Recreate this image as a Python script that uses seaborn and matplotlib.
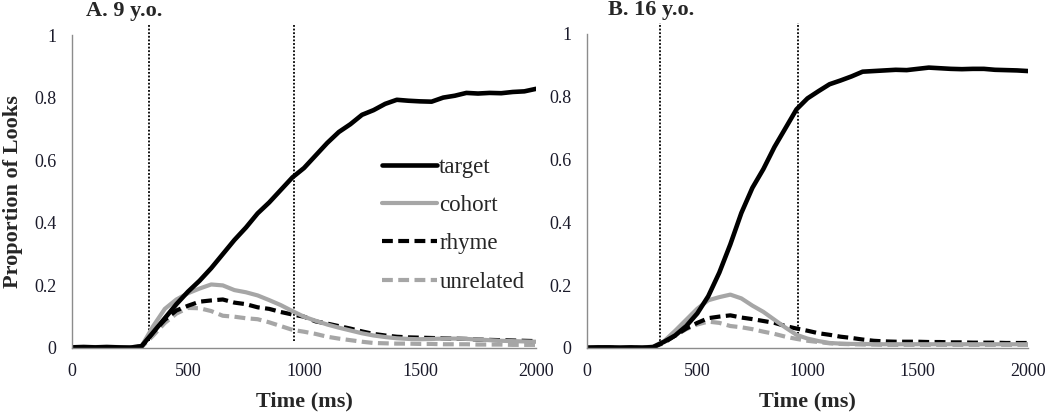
import numpy as np
import pandas as pd
import seaborn as sns
import matplotlib.pyplot as plt

# time axis (ms), one value every 50 ms
time_ms = list(range(0, 2001, 50))

# panel A: 9 year olds
target_9 = [0.002, 0.003, 0.002, 0.003, 0.002, 0.001, 0.006, 0.05, 0.095, 0.14,
            0.18, 0.215, 0.255, 0.3, 0.345, 0.385, 0.43, 0.465, 0.505, 0.545,
            0.575, 0.615, 0.655, 0.69, 0.715, 0.745, 0.76, 0.78, 0.793, 0.79,
            0.788, 0.787, 0.8, 0.806, 0.815, 0.813, 0.815, 0.814, 0.818, 0.82,
            0.828]
cohort_9 = [0.003, 0.004, 0.003, 0.004, 0.003, 0.002, 0.006, 0.07, 0.125, 0.155,
            0.175, 0.19, 0.203, 0.2, 0.185, 0.178, 0.168, 0.153, 0.137, 0.118,
            0.1, 0.087, 0.075, 0.065, 0.056, 0.047, 0.04, 0.035, 0.031, 0.029,
            0.028, 0.029, 0.03, 0.03, 0.029, 0.027, 0.025, 0.023, 0.022, 0.021,
            0.02]
rhyme_9 = [0.002, 0.003, 0.002, 0.002, 0.003, 0.002, 0.005, 0.05, 0.09, 0.12,
           0.135, 0.148, 0.152, 0.155, 0.145, 0.14, 0.13, 0.125, 0.115, 0.107,
           0.1, 0.085, 0.078, 0.07, 0.062, 0.053, 0.045, 0.04, 0.036, 0.034,
           0.033, 0.032, 0.031, 0.03, 0.029, 0.027, 0.026, 0.025, 0.024, 0.023,
           0.022]
unrelated_9 = [0.001, 0.002, 0.001, 0.002, 0.001, 0.001, 0.003, 0.04, 0.08, 0.11,
               0.128, 0.127, 0.118, 0.103, 0.1, 0.095, 0.092, 0.082, 0.07, 0.058,
               0.052, 0.045, 0.036, 0.03, 0.025, 0.02, 0.016, 0.015, 0.014, 0.014,
               0.013, 0.013, 0.012, 0.012, 0.012, 0.011, 0.011, 0.011, 0.01, 0.01,
               0.01]

# panel B: 16 year olds
target_16 = [0.001, 0.002, 0.002, 0.001, 0.002, 0.001, 0.003, 0.02, 0.04, 0.07,
             0.11, 0.165, 0.24, 0.33, 0.43, 0.51, 0.57, 0.64, 0.7, 0.76,
             0.795, 0.818, 0.84, 0.852, 0.865, 0.88, 0.882, 0.884, 0.886, 0.885,
             0.889, 0.893, 0.891, 0.889, 0.888, 0.889, 0.889, 0.886, 0.885, 0.884,
             0.882]
cohort_16 = [0.002, 0.003, 0.002, 0.003, 0.002, 0.002, 0.004, 0.022, 0.055, 0.09,
             0.125, 0.152, 0.162, 0.17, 0.158, 0.135, 0.115, 0.09, 0.065, 0.042,
             0.03, 0.022, 0.016, 0.014, 0.013, 0.013, 0.012, 0.012, 0.012, 0.012,
             0.012, 0.012, 0.012, 0.012, 0.012, 0.012, 0.012, 0.012, 0.012, 0.012,
             0.012]
rhyme_16 = [0.001, 0.002, 0.001, 0.002, 0.001, 0.001, 0.003, 0.018, 0.04, 0.062,
            0.08, 0.095, 0.1, 0.104, 0.097, 0.092, 0.086, 0.08, 0.07, 0.062,
            0.055, 0.047, 0.042, 0.036, 0.032, 0.027, 0.023, 0.021, 0.02, 0.02,
            0.02, 0.019, 0.019, 0.018, 0.018, 0.017, 0.017, 0.017, 0.016, 0.016,
            0.016]
unrelated_16 = [0.001, 0.001, 0.002, 0.001, 0.001, 0.001, 0.002, 0.016, 0.04, 0.06,
                0.075, 0.084, 0.08, 0.07, 0.066, 0.06, 0.052, 0.045, 0.036, 0.029,
                0.023, 0.019, 0.015, 0.013, 0.012, 0.011, 0.011, 0.01, 0.01, 0.01,
                0.01, 0.01, 0.01, 0.01, 0.01, 0.01, 0.01, 0.01, 0.01, 0.01,
                0.01]

panel_titles = ["A. 9 y.o.", "B. 16 y.o."]
marker_times = [333, 955]
x_ticks = [0, 500, 1000, 1500, 2000]
y_ticks = [0, 0.2, 0.4, 0.6, 0.8, 1]
y_tick_labels = ["0", "0.2", "0.4", "0.6", "0.8", "1"]

sns.set_style("white")
plt.rcParams['font.family'] = ['Liberation Serif', 'DejaVu Serif']

gray = "#a6a6a6"
axis_gray = "#8c8c8c"
styles = {
    "unrelated": dict(color=gray, lw=3.0, linestyle=(0, (2.6, 1.3))),
    "cohort": dict(color=gray, lw=3.0, linestyle="-"),
    "rhyme": dict(color="black", lw=3.0, linestyle=(0, (2.6, 1.3))),
    "target": dict(color="black", lw=3.3, linestyle="-"),
}

fig = plt.figure(figsize=(10.5, 4.17), dpi=100)
ax_a = fig.add_axes([72 / 1050, 69 / 417, 464 / 1050, 313 / 417])
ax_b = fig.add_axes([587 / 1050, 69 / 417, 441 / 1050, 314 / 417])

panels = [
    (ax_a, {"target": target_9, "cohort": cohort_9, "rhyme": rhyme_9, "unrelated": unrelated_9}),
    (ax_b, {"target": target_16, "cohort": cohort_16, "rhyme": rhyme_16, "unrelated": unrelated_16}),
]

for i, (ax, series) in enumerate(panels):
    for name in ["unrelated", "rhyme", "cohort", "target"]:
        df = pd.DataFrame({"time": time_ms, "prop": series[name]})
        sns.lineplot(data=df, x="time", y="prop", ax=ax, label=name,
                     solid_capstyle="round", **styles[name])

    # onset markers
    ax.vlines(marker_times, 0.022, 1.035, colors="black", linestyles=(0, (1, 1)),
              lw=1.3, clip_on=False, zorder=1)

    ax.set_xlim(0, 2000)
    ax.set_ylim(0, 1)
    ax.set_xticks(x_ticks)
    ax.set_yticks(y_ticks)
    ax.set_yticklabels(y_tick_labels)
    ax.tick_params(axis="both", direction="out", length=5, width=1, color=axis_gray,
                   labelsize=13, labelcolor="#1a1a2a", pad=6)
    for side in ["top", "right"]:
        ax.spines[side].set_visible(False)
    for side in ["left", "bottom"]:
        ax.spines[side].set_color(axis_gray)
        ax.spines[side].set_linewidth(1)

    ax.set_xlabel("Time (ms)", fontsize=16, fontweight="bold", labelpad=8)
    ax.set_ylabel("")
    ax.text(0.03 if i == 0 else 0.048, 1.061, panel_titles[i], transform=ax.transAxes,
            fontsize=16, fontweight="bold", va="baseline", ha="left")

    if ax.get_legend() is not None:
        ax.get_legend().remove()

ax_a.set_ylabel("Proportion of Looks", fontsize=16, fontweight="bold", labelpad=8)

handles, labels = ax_a.get_legend_handles_labels()
order = [labels.index(n) for n in ["target", "cohort", "rhyme", "unrelated"]]
ax_a.legend([handles[k] for k in order], [labels[k] for k in order],
            loc="center left", bbox_to_anchor=(0.668, 0.394), frameon=False,
            fontsize=16.5, handlelength=2.4, handletextpad=0.1, labelspacing=0.75,
            borderpad=0, borderaxespad=0)

fig.savefig("out.png", dpi=100)
